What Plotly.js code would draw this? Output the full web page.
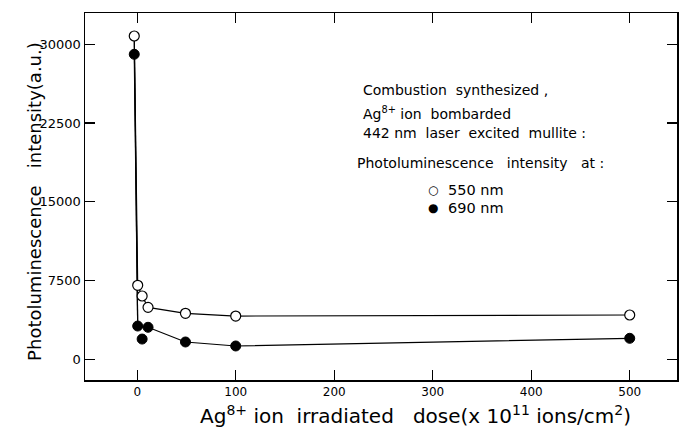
<!DOCTYPE html>
<html>
<head>
<meta charset="utf-8">
<script src="https://cdn.plot.ly/plotly-3.0.1.min.js"></script>
<style>html,body{margin:0;padding:0;background:#fff;}#chart{width:683px;height:431px;}</style>
</head>
<body>
<div id="chart"></div>
<script>
// dose (x 10^11 ions/cm^2)
var dose = [-3, 0.5, 5, 11, 49, 100, 500];
var pl550 = [30790, 7050, 6030, 4950, 4380, 4120, 4220];
var pl690 = [29050, 3170, 1930, 3050, 1650, 1270, 2000];
var xTickVals = [0, 100, 200, 300, 400, 500];
var yTickVals = [0, 7500, 15000, 22500, 30000];
var legendLines = [
  "Combustion  synthesized ,",
  "Ag<sup>8+</sup> ion  bombarded",
  "442 nm  laser  excited  mullite :",
  "Photoluminescence   intensity   at :"
];
var seriesNames = ["550 nm", "690 nm"];
var xTitle = "Ag<sup>8+</sup> ion  irradiated   dose(x 10<sup>11</sup> ions/cm<sup>2</sup>)";
var yTitle = "Photoluminescence   intensity(a.u.)";

var FONT = "DejaVu Sans, sans-serif";

// line for 690 nm skips the dose=5 point (drawn unconnected in the reference)
var pl690Line = pl690.map(function (v, i) { return dose[i] === 5 ? null : v; });

var traces = [
  {x: dose, y: pl550, mode: "lines", line: {color: "#000", width: 1.2}, hoverinfo: "skip", showlegend: false},
  {x: [dose[0], dose[1]], y: [pl550[0], pl690[1]], mode: "lines", line: {color: "#000", width: 1.2}, hoverinfo: "skip", showlegend: false},
  {x: dose, y: pl690Line, mode: "lines", connectgaps: true, line: {color: "#000", width: 1.2}, hoverinfo: "skip", showlegend: false},
  {x: dose, y: pl690, mode: "markers", name: seriesNames[1],
   marker: {symbol: "circle", size: 10, color: "#000", line: {color: "#000", width: 1}}, showlegend: false},
  {x: dose, y: pl550, mode: "markers", name: seriesNames[0],
   marker: {symbol: "circle", size: 10, color: "#fff", line: {color: "#000", width: 1.2}}, showlegend: false}
];

var annotations = [];
var ly = [0.790, 0.728, 0.673, 0.591];
var lx = [0.466, 0.466, 0.466, 0.456];
legendLines.forEach(function (t, i) {
  annotations.push({xref: "paper", yref: "paper", x: lx[i], y: ly[i], xanchor: "left", yanchor: "middle",
    text: t, showarrow: false, font: {family: FONT, size: 14, color: "#000"}});
});
var lgY = [0.517, 0.469];
var lgSym = ["○", "●"];
seriesNames.forEach(function (n, i) {
  annotations.push({xref: "paper", yref: "paper", x: 0.587, y: lgY[i], xanchor: "center", yanchor: "middle",
    text: lgSym[i], showarrow: false, font: {family: FONT, size: 12, color: "#000"}});
  annotations.push({xref: "paper", yref: "paper", x: 0.609, y: lgY[i], xanchor: "left", yanchor: "middle",
    text: n, showarrow: false, font: {family: FONT, size: 14.5, color: "#000"}});
});
annotations.push({xref: "paper", yref: "paper", x: 0.559, y: -0.095, xanchor: "center", yanchor: "middle",
  text: xTitle, showarrow: false, font: {family: FONT, size: 20, color: "#000"}});
annotations.push({xref: "paper", yref: "paper", x: -0.0845, y: 0.488, xanchor: "center", yanchor: "middle",
  textangle: -90, text: yTitle, showarrow: false, font: {family: FONT, size: 18, color: "#000"}});

var layout = {
  width: 683, height: 431,
  margin: {l: 85, r: 6, t: 13, b: 51},
  paper_bgcolor: "#fff", plot_bgcolor: "#fff",
  font: {family: FONT, color: "#000"},
  xaxis: {
    range: [-53, 548], tickvals: xTickVals, ticktext: xTickVals.map(String),
    ticks: "inside", ticklen: 10, tickwidth: 1.2, tickcolor: "#000",
    showline: true, linecolor: "#000", linewidth: 1.5, mirror: "ticks",
    showgrid: false, zeroline: false,
    tickfont: {family: FONT, size: 12}
  },
  yaxis: {
    range: [-1970, 32980], tickvals: yTickVals, ticktext: yTickVals.map(String),
    ticks: "inside", ticklen: 10, tickwidth: 1.2, tickcolor: "#000",
    showline: true, linecolor: "#000", linewidth: 1.5, mirror: "ticks",
    showgrid: false, zeroline: false,
    tickfont: {family: FONT, size: 13}
  },
  annotations: annotations,
  showlegend: false
};

Plotly.newPlot("chart", traces, layout, {staticPlot: true, displayModeBar: false});
</script>
</body>
</html>
